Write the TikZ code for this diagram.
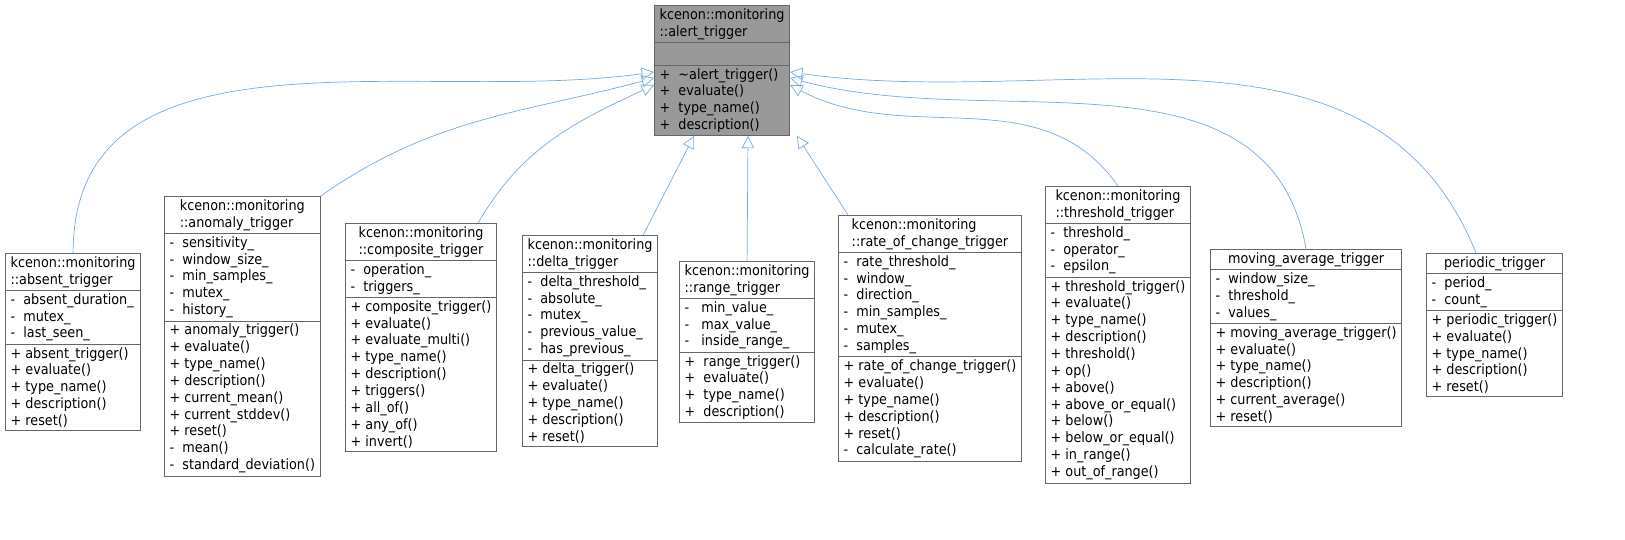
\documentclass[tikz,border=0pt]{standalone}
\usepackage{fontspec}
\setmainfont{DejaVu Sans Condensed}
\usetikzlibrary{shapes.multipart,arrows.meta,calc}
\tikzset{
  cls/.style={rectangle split, rectangle split parts=3, draw=black!60, fill=white,
    anchor=north west, inner xsep=3pt, inner ysep=1.5pt, align=left,
    rectangle split part align={center,left,left},
    font=\fontsize{8.1}{9.6}\selectfont},
  base/.style={cls, fill=black!40},
  inh/.style={draw=cyan!60!blue!55, -{Triangle[open,length=7pt,width=7pt]}}
}
\begin{document}
\begin{tikzpicture}[x=0.02cm,y=0.02cm]
\useasboundingbox (0,0) rectangle (1625,-539);
% base class
\node[base] (alert) at (654,-5) {kcenon::monitoring\\::alert\_trigger
  \nodepart{two}\strut
  \nodepart{three}+\ \ \textasciitilde alert\_trigger()\\+\ \ evaluate()\\+\ \ type\_name()\\+\ \ description()};
% derived classes
\node[cls] (absent) at (5,-253) {kcenon::monitoring\\::absent\_trigger
  \nodepart{two}-\ \ absent\_duration\_\\-\ \ mutex\_\\-\ \ last\_seen\_
  \nodepart{three}+\ absent\_trigger()\\+\ evaluate()\\+\ type\_name()\\+\ description()\\+\ reset()};
\node[cls] (anomaly) at (164,-196) {kcenon::monitoring\\::anomaly\_trigger
  \nodepart{two}-\ \ sensitivity\_\\-\ \ window\_size\_\\-\ \ min\_samples\_\\-\ \ mutex\_\\-\ \ history\_
  \nodepart{three}+\ anomaly\_trigger()\\+\ evaluate()\\+\ type\_name()\\+\ description()\\+\ current\_mean()\\+\ current\_stddev()\\+\ reset()\\-\ \ mean()\\-\ \ standard\_deviation()};
\node[cls] (composite) at (345,-223) {kcenon::monitoring\\::composite\_trigger
  \nodepart{two}-\ \ operation\_\\-\ \ triggers\_
  \nodepart{three}+\ composite\_trigger()\\+\ evaluate()\\+\ evaluate\_multi()\\+\ type\_name()\\+\ description()\\+\ triggers()\\+\ all\_of()\\+\ any\_of()\\+\ invert()};
\node[cls] (delta) at (522,-235) {kcenon::monitoring\\::delta\_trigger
  \nodepart{two}-\ \ delta\_threshold\_\\-\ \ absolute\_\\-\ \ mutex\_\\-\ \ previous\_value\_\\-\ \ has\_previous\_
  \nodepart{three}+\ delta\_trigger()\\+\ evaluate()\\+\ type\_name()\\+\ description()\\+\ reset()};
\node[cls] (range) at (679,-261) {kcenon::monitoring\\::range\_trigger
  \nodepart{two}-\ \ \ min\_value\_\\-\ \ \ max\_value\_\\-\ \ \ inside\_range\_
  \nodepart{three}+\ \ range\_trigger()\\+\ \ evaluate()\\+\ \ type\_name()\\+\ \ description()};
\node[cls] (rate) at (838,-215) {kcenon::monitoring\\::rate\_of\_change\_trigger
  \nodepart{two}-\ \ rate\_threshold\_\\-\ \ window\_\\-\ \ direction\_\\-\ \ min\_samples\_\\-\ \ mutex\_\\-\ \ samples\_
  \nodepart{three}+\ rate\_of\_change\_trigger()\\+\ evaluate()\\+\ type\_name()\\+\ description()\\+\ reset()\\-\ \ calculate\_rate()};
\node[cls] (threshold) at (1045,-186) {kcenon::monitoring\\::threshold\_trigger
  \nodepart{two}-\ \ threshold\_\\-\ \ operator\_\\-\ \ epsilon\_
  \nodepart{three}+\ threshold\_trigger()\\+\ evaluate()\\+\ type\_name()\\+\ description()\\+\ threshold()\\+\ op()\\+\ above()\\+\ above\_or\_equal()\\+\ below()\\+\ below\_or\_equal()\\+\ in\_range()\\+\ out\_of\_range()};
\node[cls] (moving) at (1210,-249) {moving\_average\_trigger
  \nodepart{two}-\ \ window\_size\_\\-\ \ threshold\_\\-\ \ values\_
  \nodepart{three}+\ moving\_average\_trigger()\\+\ evaluate()\\+\ type\_name()\\+\ description()\\+\ current\_average()\\+\ reset()};
\node[cls] (periodic) at (1426,-253) {periodic\_trigger
  \nodepart{two}-\ \ period\_\\-\ \ count\_
  \nodepart{three}+\ periodic\_trigger()\\+\ evaluate()\\+\ type\_name()\\+\ description()\\+\ reset()};
% arrow ends on the base class
\coordinate (inL1) at ($(alert.north west)+(0,-67)$);
\coordinate (inL2) at ($(alert.north west)+(0,-73)$);
\coordinate (inL3) at ($(alert.north west)+(0,-80)$);
\coordinate (inB1) at ($(alert.south west)+(40,0)$);
\coordinate (inB2) at ($(alert.south west)+(94,0)$);
\coordinate (inB3) at ($(alert.south west)+(143,0)$);
\coordinate (inR1) at ($(alert.north east)+(0,-80)$);
\coordinate (inR2) at ($(alert.north east)+(0,-73)$);
\coordinate (inR3) at ($(alert.north east)+(0,-67)$);
% inheritance
\draw[inh] (absent.north) to[out=90,in=188] (inL1);
\draw[inh] (anomaly.north east) to[out=35,in=195] (inL2);
\draw[inh] ($(composite.north east)+(-19,0)$) to[out=60,in=205] (inL3);
\draw[inh] ($(delta.north east)+(-15,0)$) -- (inB1);
\draw[inh] (range.north) -- (inB2);
\draw[inh] ($(rate.north west)+(10,0)$) -- (inB3);
\draw[inh] (threshold.north) to[out=125,in=-28] (inR1);
\draw[inh] (moving.north) to[out=100,in=-15] (inR2);
\draw[inh] ($(periodic.north west)+(50,0)$) to[out=112,in=-8] (inR3);
\end{tikzpicture}
\end{document}
